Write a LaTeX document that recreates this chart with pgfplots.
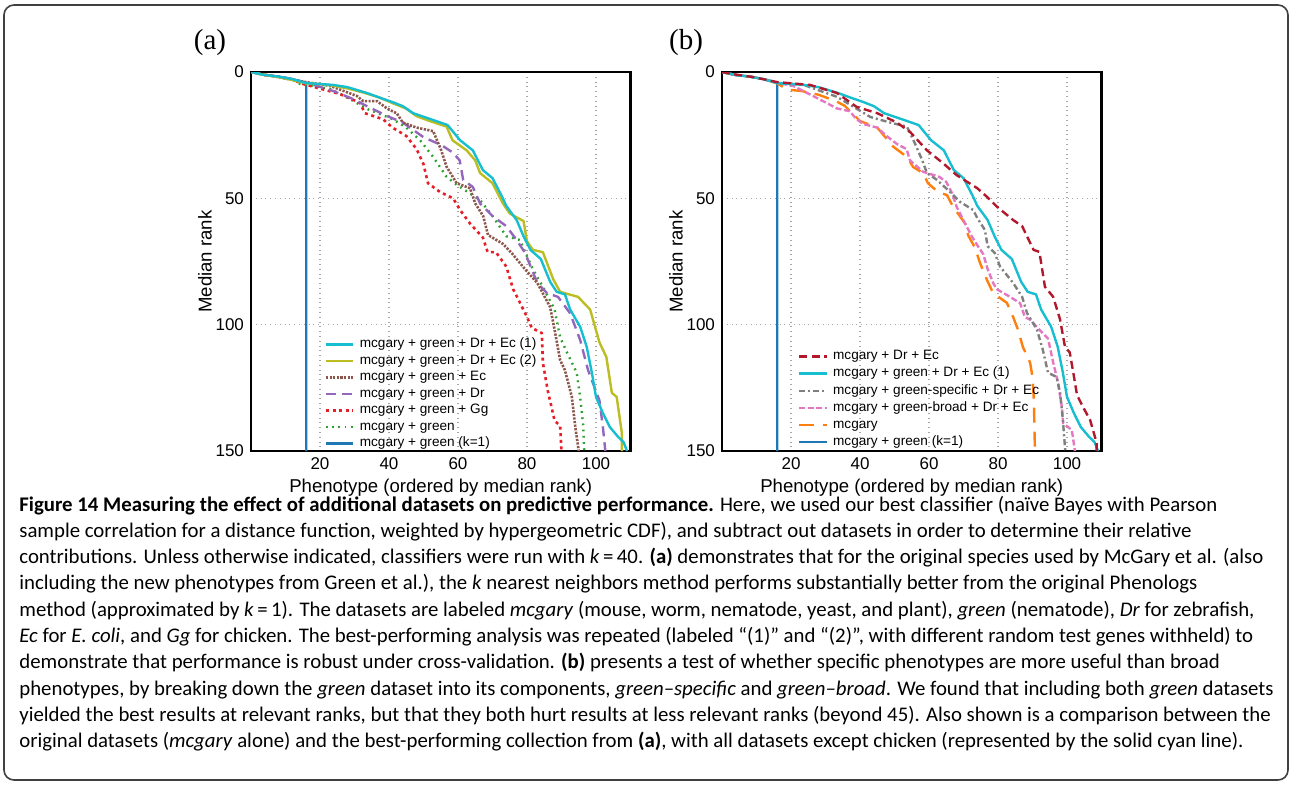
\documentclass[border=0pt]{standalone}
\usepackage{pgfplots}
\pgfplotsset{compat=1.18}
\usepackage{fontspec}
\setmainfont{Liberation Sans}
\newfontfamily\capfont{Carlito}
\newfontfamily\labfont{Liberation Serif}

\definecolor{cyanC}{RGB}{23,190,207}
\definecolor{oliveC}{RGB}{188,189,34}
\definecolor{brownC}{RGB}{140,86,75}
\definecolor{purpleC}{RGB}{148,103,189}
\definecolor{redC}{RGB}{230,30,40}
\definecolor{greenC}{RGB}{44,160,44}
\definecolor{blueC}{RGB}{31,119,180}
\definecolor{darkredC}{RGB}{178,24,43}
\definecolor{grayC}{RGB}{127,127,127}
\definecolor{pinkC}{RGB}{227,119,194}
\definecolor{orangeC}{RGB}{255,127,14}

\pgfplotsset{
  rankaxis/.style={
    scale only axis, width=189.75pt, height=189.5pt,
    xmin=0, xmax=110, ymin=0, ymax=150, y dir=reverse,
    xtick={20,40,60,80,100}, ytick={0,50,100,150},
    grid=major, grid style={dotted, black!35, line width=0.6pt},
    axis line style={line width=1.1pt},
    major tick length=0pt,
    /pgf/number format/assume math mode=true,
    tick label style={font=\fontsize{8.5}{9.5}\selectfont},
    label style={font=\fontsize{9.3}{11}\selectfont},
    xlabel={Phenotype (ordered by median rank)},
    ylabel={Median rank},
    xlabel style={at={(axis description cs:0.5,-0.097)}, anchor=center},
    ylabel style={at={(axis description cs:-0.121,0.5)}, anchor=center},
    legend cell align=left,
    reverse legend,
    every axis plot/.append style={line width=1.2pt, line join=round},
  },
}

\begin{document}
\begin{tikzpicture}
\path[use as bounding box] (0pt,0pt) rectangle (646pt,-392pt);
\draw[rounded corners=5pt, line width=0.8pt, black!75] (2pt,-2.5pt) rectangle (644pt,-390pt);

\node[font=\labfont\fontsize{14.5}{16}\selectfont] at (105pt,-21.5pt) {(a)};
\node[font=\labfont\fontsize{14.5}{16}\selectfont] at (343pt,-21.5pt) {(b)};

% ---------------- panel (a)
\begin{axis}[rankaxis,
  at={(125.5pt,-36pt)}, anchor=north west,
  legend image code/.code={\draw[#1] (0pt,0pt) -- (13.5pt,0pt);},
  legend style={at={(axis description cs:0.193,0.302)}, anchor=north west,
    draw=none, fill=none, inner sep=0pt, row sep=0.75pt,
    font=\fontsize{6.8}{7.5}\selectfont,
    nodes={inner sep=0.8pt, text height=4.6pt, text depth=1.3pt},
    /tikz/every odd column/.append style={column sep=2pt}},
]
\addplot[blueC, line width=1.1pt] coordinates {(0,0) (4,1.2) (8,1.8) (12,2.8) (15,3.8) (16,4.5) (16,150)};
\addlegendentry{mcgary + green (k=1)}
\addplot[greenC, line width=1.2pt, dash pattern=on 0.9pt off 2.2pt] coordinates {
(0,0) (4,1.2) (8,1.8) (12,3) (14.2,4.7) (23,6.7) (28.7,10.7) (33.6,14.6) (41,18.6) (45,22)
(49,27) (52.8,33.6) (56.7,41.5) (59.7,44.7) (66.4,50.7) (70,57) (74,65) (78,66.5) (80,73)
(81.7,78) (85,86) (88,94) (89.6,105) (91.6,111) (94.4,119) (95.4,128.6) (96.3,140) (96.6,150)};
\addlegendentry{mcgary + green}
\addplot[redC, line width=1.3pt, dash pattern=on 1.5pt off 1.8pt] coordinates {
(0,0) (4,1.2) (8,1.8) (12,3) (15,4.7) (25.8,8.7) (31.6,12.2) (33,16.3) (38.3,18.7) (41,22)
(45,25.3) (48,30.5) (50,36.5) (51.3,44) (54.8,47.5) (58.6,50) (60.6,54.6) (63.5,60) (67.2,65.5)
(68.6,71.3) (71,71.3) (74,77) (76,86) (78,91.4) (80,97) (81.4,101.3) (84.3,103.3) (84.6,115)
(86,126) (88,138) (89.6,140) (90,150)};
\addlegendentry{mcgary + green + Gg}
\addplot[purpleC, line width=1.2pt, dash pattern=on 5pt off 3pt] coordinates {
(0,0) (4,1.2) (8,1.8) (12,2.8) (16,4.2) (23.8,7.5) (29.6,10.7) (33.6,13.5) (39.4,17.4) (44,20)
(50,25.8) (55.3,29) (58.6,32) (60.5,35) (61.5,42.7) (64.3,45.5) (66.4,52) (70,57) (74,61)
(77,66.5) (79.4,71.5) (83,83.5) (85.8,87.5) (89,89) (92.5,95.5) (95.4,106) (97.7,118) (101,130)
(102,140.5) (102.7,150)};
\addlegendentry{mcgary + green + Dr}
\addplot[brownC, line width=1.3pt, dash pattern=on 1.1pt off 0.7pt] coordinates {
(0,0) (4,1) (9.3,2.4) (15,3.8) (23,5.5) (30.7,9.5) (32.5,11.5) (36.5,11.5) (39.4,14.4) (42.3,16.4)
(44,20) (48,22) (52.8,23.4) (55,30.5) (56.7,37.5) (59.6,44) (63.5,46) (65,52) (67.3,57)
(68.7,64.5) (73,68) (75.6,71.7) (79.4,78) (83,83.5) (86.7,93) (88,102) (89.6,114) (91,118)
(93,128.6) (94,140.5) (95,150)};
\addlegendentry{mcgary + green + Ec}
\addplot[oliveC] coordinates {
(0,0) (4,1.2) (8,2) (12,3.2) (16,4.5) (22,5) (28,6.5) (33,8.3) (37,10) (41,12.3) (45,14.5)
(48,17.5) (52,19.5) (56.7,21.6) (58.4,27) (62.5,31) (65,35) (66.4,40) (70,44) (73,52) (75,56)
(79,59) (80,67) (81.7,70.4) (84.6,71.3) (87.6,82) (89.6,87) (94.8,89) (98.3,94) (101,107)
(103,112.8) (104.6,127) (106,128.6) (107.5,143) (107.5,150)};
\addlegendentry{mcgary + green + Dr + Ec (2)}
\addplot[cyanC] coordinates {
(0,0) (4,1.2) (8,1.8) (12,2.8) (16,4.4) (23.8,5.1) (28,6) (33.6,8.3) (37,10) (41,11.9) (44,13.5)
(47,16.3) (52.8,19) (57,21) (60.6,27) (64.3,31) (67.2,38.8) (70,42) (72.8,49.4) (74,53) (77,58.6)
(79,65) (81,70.4) (84,74) (86.7,83) (88.6,87) (91,88) (92.5,94) (95.4,100.8) (97.3,108.7)
(98.8,119) (100,128.6) (102,135) (104,140.5) (106.4,144.4) (108,146.5) (109,150)};
\addlegendentry{mcgary + green + Dr + Ec (1)}
\end{axis}

% ---------------- panel (b)
\begin{axis}[rankaxis,
  at={(361pt,-36pt)}, anchor=north west,
  legend image code/.code={\draw[#1] (0pt,0pt) -- (14pt,0pt);},
  legend style={at={(axis description cs:0.199,0.270)}, anchor=north west,
    draw=none, fill=none, inner sep=0pt, row sep=1.05pt,
    font=\fontsize{6.8}{7.5}\selectfont,
    nodes={inner sep=0.8pt, text height=4.6pt, text depth=1.3pt},
    /tikz/every odd column/.append style={column sep=1.6pt}},
]
\addplot[blueC, line width=1.1pt] coordinates {(0,0) (4,1.2) (8,1.8) (12,2.8) (15,3.8) (16,4.5) (16,150)};
\addlegendentry{mcgary + green (k=1)}
\addplot[orangeC, line width=1.2pt, dash pattern=on 7.5pt off 4.5pt] coordinates {
(0,0) (4,1.2) (8,1.8) (12,2.8) (16,4.5) (19,7) (23,7.5) (28,9) (33,11.5) (35.6,13.4) (40,19.4)
(45,22) (49.6,29.5) (53.6,33.6) (55.4,37.6) (58.3,40) (59.7,44) (62.6,47.5) (65.2,48.7) (67,53.4)
(68.4,56) (71,61) (71.3,64.5) (73.3,69.5) (74.8,75.6) (76.8,82.3) (78.6,87.5) (82.6,91.4)
(84.4,97) (85.8,102) (87.2,108.8) (89.3,115) (90,120.7) (90.4,130) (90.7,150)};
\addlegendentry{mcgary}
\addplot[pinkC, line width=1.2pt, dash pattern=on 3pt off 1.3pt] coordinates {
(0,0) (4,1.2) (8,1.8) (12,2.8) (16,4.3) (20.6,5.5) (26.4,9.5) (30.4,12.3) (33.3,14.4) (37,15.5)
(39,18.7) (41,20.6) (45,22) (47.7,25.3) (50.7,28.5) (53.5,30.5) (54.5,35) (58.3,39.5) (63,41.5)
(65,43.5) (66.7,48) (68,53.3) (70.4,59.8) (72.4,65) (74.2,69) (75.7,72) (77,78) (78.6,83.5)
(79.7,86) (83.5,89) (86.4,91.5) (87.8,97) (89.3,98) (92,102) (94.5,105.5) (96,115) (97.4,123)
(98.5,132.5) (98.9,139) (101.4,141.7) (102.3,150)};
\addlegendentry{mcgary + green-broad + Dr + Ec}
\addplot[grayC, line width=1.2pt, dash pattern=on 3pt off 1.5pt on 1pt off 1.5pt] coordinates {
(0,0) (4,1.2) (8,1.8) (12,2.8) (16,4.3) (23.5,5) (27.5,7) (33.3,9.8) (43,17.8) (48.7,20)
(53.6,21.6) (56,28.5) (58,34.8) (59.4,40) (62.3,42.7) (65.5,46.7) (69,51.4) (72.8,54.6) (74,57.8)
(76.2,62.5) (77,69) (79,71.5) (80.6,77) (84.4,83.5) (87,89) (88.4,95.4) (91.3,102) (93,110)
(94.5,119) (97,120.7) (98,127) (98.8,137.7) (99.5,150)};
\addlegendentry{mcgary + green-specific + Dr + Ec}
\addplot[cyanC] coordinates {
(0,0) (4,1.2) (8,1.8) (12,2.8) (16,4.4) (23.8,5.1) (28,6) (33.6,8.3) (37,10) (41,11.9) (44,13.5)
(47,16.3) (52.8,19) (57,21) (60.6,27) (64.3,31) (67.2,38.8) (70,42) (72.8,49.4) (74,53) (77,58.6)
(79,65) (81,70.4) (84,74) (86.7,83) (88.6,87) (91,88) (92.5,94) (95.4,100.8) (97.3,108.7)
(98.8,119) (100,128.6) (102,135) (104,140.5) (106.4,144.4) (108,146.5) (109,150)};
\addlegendentry{mcgary + green + Dr + Ec (1)}
\addplot[darkredC, line width=1.2pt, dash pattern=on 4pt off 2.2pt] coordinates {
(0,0) (4,1) (9,2) (16,4) (25.5,5.1) (33.3,8.3) (39,13.8) (45,16.3) (50.7,20) (54.5,23.7)
(59.4,31) (64,36) (68,40.8) (74,46) (76.8,49.4) (79.7,53.3) (84.4,58.6) (87,61) (88.4,65)
(90.3,70.4) (92,71.2) (93.6,85) (96,89) (98,98) (99.4,108.7) (100.8,111) (101.7,118) (102.9,127.8)
(104.6,132.5) (106.7,137.7) (108.6,146.8) (108.6,150)};
\addlegendentry{mcgary + Dr + Ec}
\end{axis}

% ---------------- caption
\begin{scope}[every node/.style={anchor=base west, inner sep=0pt, font=\capfont\fontsize{10.4}{12}\selectfont}]
\node at (9.5pt,-255.5pt) {\textbf{Figure 14 Measuring the effect of additional datasets on predictive performance.} Here, we used our best classifier (naïve Bayes with Pearson};
\node at (9.5pt,-268.65pt) {sample correlation for a distance function, weighted by hypergeometric CDF), and subtract out datasets in order to determine their relative};
\node at (9.5pt,-281.8pt) {contributions. Unless otherwise indicated, classifiers were run with \textit{k}\,=\,40. \textbf{(a)} demonstrates that for the original species used by McGary et al. (also};
\node at (9.5pt,-294.95pt) {including the new phenotypes from Green et al.), the \textit{k} nearest neighbors method performs substantially better from the original Phenologs};
\node at (9.5pt,-308.1pt) {method (approximated by \textit{k}\,=\,1). The datasets are labeled \textit{mcgary} (mouse, worm, nematode, yeast, and plant), \textit{green} (nematode), \textit{Dr} for zebrafish,};
\node at (9.5pt,-321.25pt) {\textit{Ec} for \textit{E. coli}, and \textit{Gg} for chicken. The best-performing analysis was repeated (labeled “(1)” and “(2)”, with different random test genes withheld) to};
\node at (9.5pt,-334.4pt) {demonstrate that performance is robust under cross-validation. \textbf{(b)} presents a test of whether specific phenotypes are more useful than broad};
\node at (9.5pt,-347.55pt) {phenotypes, by breaking down the \textit{green} dataset into its components, \textit{green–specific} and \textit{green–broad}. We found that including both \textit{green} datasets};
\node at (9.5pt,-360.7pt) {yielded the best results at relevant ranks, but that they both hurt results at less relevant ranks (beyond 45). Also shown is a comparison between the};
\node at (9.5pt,-373.85pt) {original datasets (\textit{mcgary} alone) and the best-performing collection from \textbf{(a)}, with all datasets except chicken (represented by the solid cyan line).};
\end{scope}
\end{tikzpicture}
\end{document}
